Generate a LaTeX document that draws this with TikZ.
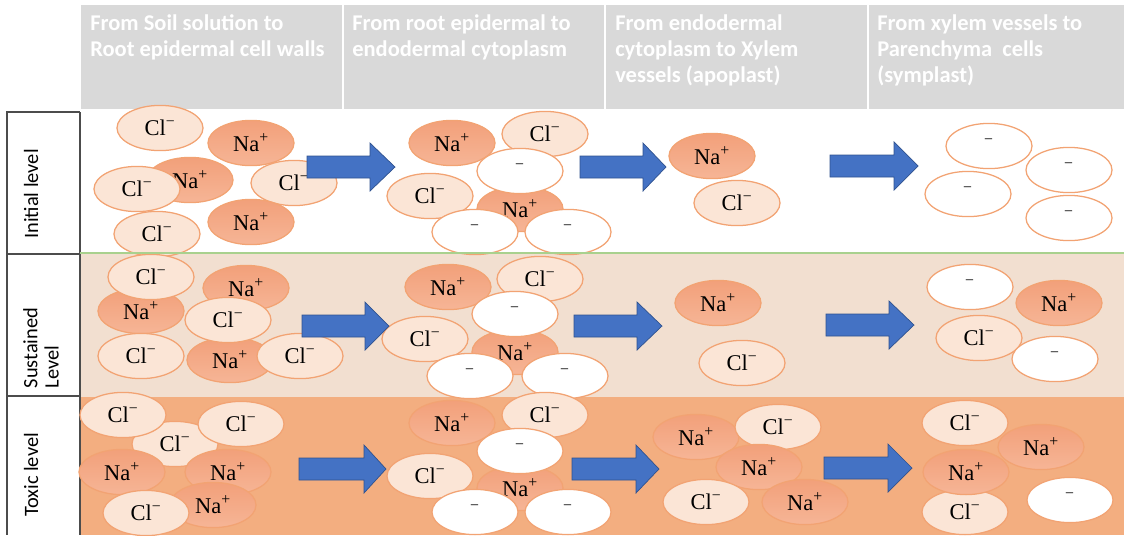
\documentclass[tikz,border=0pt]{standalone}
\usepackage{fontspec}
\setmainfont{Liberation Serif}
\newfontfamily\headfont{Carlito}
\usetikzlibrary{shapes.geometric}

\definecolor{headgray}{HTML}{D9D9D9}
\definecolor{sustfill}{HTML}{F2DFD0}
\definecolor{toxfill}{HTML}{F3AE80}
\definecolor{ionline}{HTML}{F2A373}
\definecolor{clfill}{HTML}{FBE5D6}
\definecolor{natop}{HTML}{F2A07A}
\definecolor{nabot}{HTML}{F6B596}
\definecolor{flowblue}{HTML}{4472C4}
\definecolor{flowedge}{HTML}{2F528F}
\definecolor{levelgreen}{HTML}{A9D18E}

% block arrow: start x, head x, tip x, mid y
\newcommand{\flowarrow}[4]{%
  \draw[flow] (#1,#4-11) -- (#2,#4-11) -- (#2,#4-24) -- (#3,#4)
    -- (#2,#4+24) -- (#2,#4+11) -- (#1,#4+11) -- cycle;}

\begin{document}
\begin{tikzpicture}[
    x=0.025cm, y=-0.025cm,
    ion/.style={ellipse, draw=ionline, line width=0.9pt, minimum width=2.15cm,
      minimum height=1.13cm, inner sep=0pt, font=\fontsize{16}{19}\selectfont},
    cl/.style={ion, fill=clfill},
    na/.style={ion, top color=natop, bottom color=nabot},
    vac/.style={ion, fill=white},
    head/.style={anchor=north west, inner sep=0pt, align=left, text=white,
      font=\headfont\bfseries\fontsize{16}{18.5}\selectfont},
    level/.style={rotate=90, inner sep=0pt, align=left,
      font=\headfont\fontsize{14.5}{15}\selectfont},
    flow/.style={fill=flowblue, draw=flowedge, line width=0.5pt},
    boxline/.style={draw=black!70, line width=0.9pt},
  ]
  \useasboundingbox (0,0) rectangle (1124,535);

  % Header
  \fill[headgray] (81,5) rectangle (342,109);
  \fill[headgray] (344,5) rectangle (604,109);
  \fill[headgray] (606,5) rectangle (867,109);
  \fill[headgray] (869,5) rectangle (1124,109);
  \node[head] (h1) at (90,14) {From Soil solution to\\Root epidermal cell walls};
  \node[head] (h2) at (352,14) {From root epidermal to\\endodermal cytoplasm};
  \node[head] (h3) at (615,14) {From endodermal\\cytoplasm to Xylem\\vessels (apoplast)};
  \node[head] (h4) at (877,14) {From xylem vessels to\\Parenchyma\ \ cells\\(symplast)};

  % Level bands
  \fill[sustfill] (81,254) rectangle (1124,397);
  \fill[toxfill] (81,397) rectangle (1124,535);

  % Level labels
  \draw[boxline] (80,112) -- (7,112) -- (7,535);
  \draw[boxline] (80,112) -- (80,535);
  \draw[boxline] (7,254) -- (80,254);
  \draw[boxline] (7,396) -- (80,396);
  \node[level] (lvinit) at (31,194) {Initial level};
  \node[level] (lvsust) at (41,348) {Sustained\\Level};
  \node[level] (lvtox) at (31,475) {Toxic level};

  % Initial level
  \node[cl] (i1a) at (160,128) {Cl\textsuperscript{−}};
  \node[na] (i1b) at (251,143) {Na\textsuperscript{+}};
  \node[na] (i1c) at (190,180) {Na\textsuperscript{+}};
  \node[cl] (i1d) at (137,189) {Cl\textsuperscript{−}};
  \node[cl] (i1e) at (294,183) {Cl\textsuperscript{−}};
  \node[na] (i1f) at (251,222) {Na\textsuperscript{+}};
  \node[cl] (i1g) at (157,234) {Cl\textsuperscript{−}};
  \node[na] (i2a) at (452,143) {Na\textsuperscript{+}};
  \node[cl] (i2b) at (545,134) {Cl\textsuperscript{−}};
  \node[na] (i2c) at (520,209) {Na\textsuperscript{+}};
  \node[vac] (i2d) at (520,171) {\vphantom{Cl}\textsuperscript{−}};
  \node[cl] (i2e) at (430,196) {Cl\textsuperscript{−}};
  \node[vac] (i2f) at (475,232) {\vphantom{Cl}\textsuperscript{−}};
  \node[vac] (i2g) at (568,232) {\vphantom{Cl}\textsuperscript{−}};
  \node[na] (i3a) at (712,156) {Na\textsuperscript{+}};
  \node[cl] (i3b) at (737,203) {Cl\textsuperscript{−}};
  \node[vac] (i4a) at (989,146) {\vphantom{Cl}\textsuperscript{−}};
  \node[vac] (i4b) at (1069,170) {\vphantom{Cl}\textsuperscript{−}};
  \node[vac] (i4c) at (968,194) {\vphantom{Cl}\textsuperscript{−}};
  \node[vac] (i4d) at (1069,218) {\vphantom{Cl}\textsuperscript{−}};

  % Sustained level
  \node[na] (s1a) at (141,311) {Na\textsuperscript{+}};
  \node[cl] (s1b) at (151,277) {Cl\textsuperscript{−}};
  \node[na] (s1c) at (246,288) {Na\textsuperscript{+}};
  \node[na] (s1d) at (230,360) {Na\textsuperscript{+}};
  \node[cl] (s1e) at (228,320) {Cl\textsuperscript{−}};
  \node[cl] (s1f) at (141,356) {Cl\textsuperscript{−}};
  \node[cl] (s1g) at (300,356) {Cl\textsuperscript{−}};
  \node[na] (s2a) at (448,287) {Na\textsuperscript{+}};
  \node[cl] (s2b) at (540,279) {Cl\textsuperscript{−}};
  \node[na] (s2c) at (515,352) {Na\textsuperscript{+}};
  \node[vac] (s2d) at (515,314) {\vphantom{Cl}\textsuperscript{−}};
  \node[cl] (s2e) at (425,339) {Cl\textsuperscript{−}};
  \node[vac] (s2f) at (470,376) {\vphantom{Cl}\textsuperscript{−}};
  \node[vac] (s2g) at (565,376) {\vphantom{Cl}\textsuperscript{−}};
  \node[na] (s3a) at (718,303) {Na\textsuperscript{+}};
  \node[cl] (s3b) at (742,363) {Cl\textsuperscript{−}};
  \node[vac] (s4a) at (970,287) {\vphantom{Cl}\textsuperscript{−}};
  \node[na] (s4b) at (1059,303) {Na\textsuperscript{+}};
  \node[cl] (s4c) at (979,338) {Cl\textsuperscript{−}};
  \node[vac] (s4d) at (1055,359) {\vphantom{Cl}\textsuperscript{−}};

  % Toxic level
  \node[cl] (t1a) at (175,444) {Cl\textsuperscript{−}};
  \node[cl] (t1b) at (123,415) {Cl\textsuperscript{−}};
  \node[cl] (t1c) at (241,424) {Cl\textsuperscript{−}};
  \node[na] (t1d) at (122,472) {Na\textsuperscript{+}};
  \node[na] (t1e) at (228,472) {Na\textsuperscript{+}};
  \node[na] (t1f) at (213,505) {Na\textsuperscript{+}};
  \node[cl] (t1g) at (146,513) {Cl\textsuperscript{−}};
  \node[na] (t2a) at (452,423) {Na\textsuperscript{+}};
  \node[cl] (t2b) at (545,415) {Cl\textsuperscript{−}};
  \node[na] (t2c) at (520,488) {Na\textsuperscript{+}};
  \node[vac] (t2d) at (520,451) {\vphantom{Cl}\textsuperscript{−}};
  \node[cl] (t2e) at (430,476) {Cl\textsuperscript{−}};
  \node[vac] (t2f) at (475,512) {\vphantom{Cl}\textsuperscript{−}};
  \node[vac] (t2g) at (568,512) {\vphantom{Cl}\textsuperscript{−}};
  \node[na] (t3a) at (696,437) {Na\textsuperscript{+}};
  \node[cl] (t3b) at (778,427) {Cl\textsuperscript{−}};
  \node[na] (t3c) at (759,467) {Na\textsuperscript{+}};
  \node[cl] (t3d) at (706,502) {Cl\textsuperscript{−}};
  \node[na] (t3e) at (805,502) {Na\textsuperscript{+}};
  \node[cl] (t4a) at (965,423) {Cl\textsuperscript{−}};
  \node[na] (t4b) at (1041,447) {Na\textsuperscript{+}};
  \node[cl] (t4c) at (965,512) {Cl\textsuperscript{−}};
  \node[na] (t4d) at (966,472) {Na\textsuperscript{+}};
  \node[vac] (t4e) at (1070,500) {\vphantom{Cl}\textsuperscript{−}};

  % Arrows
  \flowarrow{307}{370}{395}{167}
  \flowarrow{580}{643}{666}{167}
  \flowarrow{830}{894}{918}{166}
  \flowarrow{302}{365}{389}{326}
  \flowarrow{574}{637}{662}{326}
  \flowarrow{826}{889}{914}{325}
  \flowarrow{299}{364}{386}{469}
  \flowarrow{572}{636}{659}{469}
  \flowarrow{824}{888}{912}{468}

  \draw[levelgreen, line width=1.2pt] (80,253) -- (1124,253);
\end{tikzpicture}
\end{document}
